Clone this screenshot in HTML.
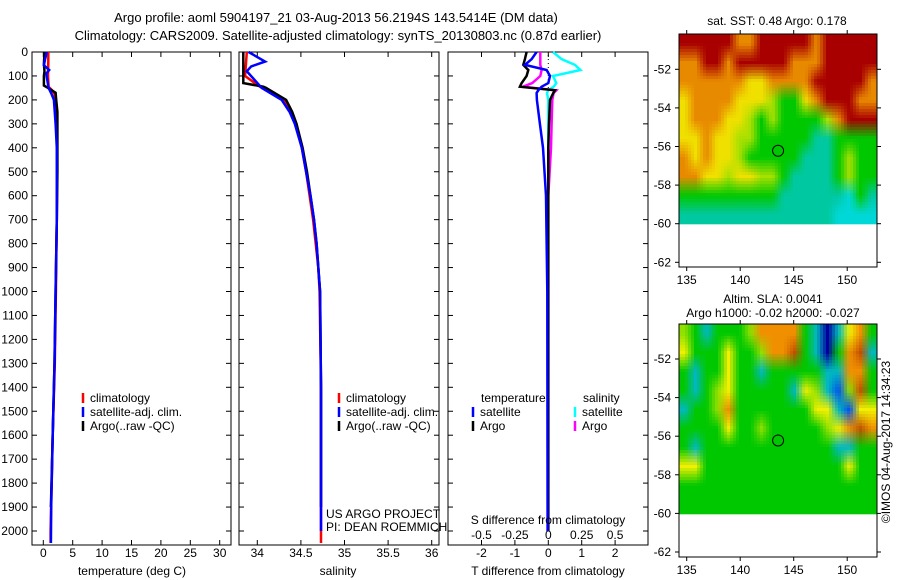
<!DOCTYPE html>
<html><head><meta charset="utf-8"><style>
body{margin:0;background:#fff}
svg{display:block;font-family:"Liberation Sans",sans-serif;font-size:12px}
</style></head><body>
<svg id="s" width="900" height="580" xmlns="http://www.w3.org/2000/svg">
<text x="336" y="22" text-anchor="middle" font-size="13">Argo profile: aoml 5904197_21 03-Aug-2013 56.2194S 143.5414E (DM data)</text>
<text x="338" y="40" text-anchor="middle" font-size="13">Climatology: CARS2009. Satellite-adjusted climatology: synTS_20130803.nc (0.87d earlier)</text>
</svg>
<script>
// ---- data ----
const depthTicks=[0,100,200,300,400,500,600,700,800,900,1000,1100,1200,1300,1400,1500,1600,1700,1800,1900,2000];
const tempTicks=[0,5,10,15,20,25,30];
const salTicks=[34,34.5,35,35.5,36];
const salTickLabels=["34","34.5","35","35.5","36"];
const tdTicks=[-2,-1,0,1,2];
const sdTicks=[-0.5,-0.25,0,0.25,0.5];
const sdTickLabels=["-0.5","-0.25","0","0.25","0.5"];
const tDepth=[0,40,100,145,160,175,200,300,500,700,1000,1300,1600,2000,2050];
const tClim=[0.85,0.85,0.8,0.9,1.5,1.9,2.1,2.3,2.35,2.3,2.15,1.95,1.6,1.25,1.25];
const satTDepth=[0,30,55,75,90,150,175,200,300,400,700,1000,1300,1600,1900,2050];
const tSat=[0.6,0.3,0.1,1.0,0.5,0.9,1.4,1.8,2.1,2.3,2.3,2.1,1.9,1.6,1.35,1.3];
const argoDepth=[0,50,80,100,140,150,170,200,250,300,500,700,1000,1300,1600,1900];
const tArgo=[0.2,0.1,0.2,0.1,0.1,0.8,2.1,2.2,2.4,2.4,2.4,2.3,2.1,1.9,1.6,1.3];
const sDepth=[0,100,145,200,250,300,400,500,600,700,800,900,1000,1400,2050];
const sClim=[33.88,33.86,34.03,34.3,34.39,34.44,34.51,34.56,34.6,34.64,34.67,34.70,34.715,34.73,34.73];
const sSatDepth=[0,40,60,80,150,200,250,300,400,500,600,700,800,900,1000,1400,2000];
const sSat=[33.9,34.09,33.93,33.88,34.05,34.28,34.37,34.43,34.51,34.56,34.61,34.65,34.68,34.70,34.72,34.73,34.73];
const sArgoDepth=[0,130,145,150,200,250,300,400,500,600,700,800,900,1000,1400,1900];
const sArgo=[33.84,33.84,34.07,34.1,34.33,34.4,34.45,34.52,34.57,34.61,34.65,34.68,34.70,34.72,34.73,34.73];
const dDepth=[0,30,54,75,100,130,145,160,171,200,300,400,600,1000,2000];
const dTSat=[-0.35,-0.5,-0.7,-0.05,0.05,0.0,-0.2,-0.3,-0.35,-0.34,-0.25,-0.16,-0.07,-0.03,-0.02];
const dTArgo=[-0.65,-0.7,-0.75,-0.6,-0.65,-0.8,-0.85,0.2,0.15,0.05,0.02,0.0,0.0,0.0,0.0];
const dSSat=[0.035,0.1,0.2,0.24,0.035,0.06,0.04,0.0,-0.01,0.0,0.0,0.0,0.0,0.0,0.0];
const dSArgo=[-0.06,-0.06,-0.06,-0.05,-0.06,-0.12,-0.19,0.06,0.04,0.03,0.025,0.02,0.0,0.0,0.0];
const lonTicks=[135,140,145,150];
const latTicks=[-52,-54,-56,-58,-60,-62];
const argoLon=143.54, argoLat=-56.22;
const sstGrid=["RRRRROORRRRRORRRRR","OORRORRRRROOORRRRR","OOOOOOYYOOOORRRRRO","YOOOOYYYLGGYORRROO","YOOOYYLGLGGGGLORRR","YYOYYLLGGGGGCCGGGG","OYOYYLGGGGGCCCGLGG","OOYYLYYLLGCCCCGLGG","GGGGGGGGGCCCCCCTGC","CCCCCCCCCCCCCCTTTT"];
const slaGrid=["LGCGGGLOOOOGCDCYOG","YGGGYGGLOORGCDGORC","GCGGYGGCGGGGGCCOOG","GCGLYGGGGGCYLCBLRG","CGGLOGGGGGGGYYCBYY","GGGGYGGLGGGGGLYORO","GCGGGGGGGGGGGGCCGG","YYGGGGGGGGGGGGGYGG","GGGGGGGGGGGGGGGGGG","GGGGGGGGGGGGGGGGGG"];
// ---- helpers ----
const S=document.getElementById('s'),NS='http://www.w3.org/2000/svg';
function mk(t,a,txt){const e=document.createElementNS(NS,t);for(const k in a)e.setAttribute(k,a[k]);if(txt!=null)e.textContent=txt;S.appendChild(e);return e;}
const yD=d=>52+d*0.2395;
const xT=v=>43.3+v*5.88;
const xS=v=>257.3+(v-34)*87.2;
const xTD=v=>548.3+v*33.4;
const xSD=v=>548.3+v*133.6;
const mx=lon=>686.7+(lon-135)*10.7;
const my1=lat=>69.3+(-52-lat)*19.3;
const my2=lat=>359+(-52-lat)*19.3;
function box(x0,x1,name){
  const r=mk('rect',{x:x0,y:52,width:x1-x0,height:493,fill:'none',stroke:'#000','stroke-width':1});
  
  depthTicks.forEach(d=>{mk('line',{x1:x0,x2:x0+5,y1:yD(d),y2:yD(d),stroke:'#000'});mk('line',{x1:x1-5,x2:x1,y1:yD(d),y2:yD(d),stroke:'#000'});});
}
function line(xs,ds,fx,col,name,w){
  const p=xs.map((v,i)=>fx(v).toFixed(1)+','+yD(ds[i]).toFixed(1)).join(' ');
  const e=mk('polyline',{points:p,fill:'none',stroke:col,'stroke-width':w||2.5});
  
}
function xticks(vals,labels,fx,x0,x1,y,name){
  vals.forEach((v,i)=>{const x=fx(v);mk('line',{x1:x,x2:x,y1:540,y2:545,stroke:'#000'});mk('line',{x1:x,x2:x,y1:52,y2:57,stroke:'#000'});
  const t=mk('text',{x:x,y:y,'text-anchor':'middle'},labels[i]);});
}
// panel 1
box(32,231,'temperature-panel');
depthTicks.forEach(d=>{const t=mk('text',{x:28,y:yD(d)+4,'text-anchor':'end'},String(d));});
xticks(tempTicks,tempTicks.map(String),xT,32,231,557,'temperature-tick-label');
line(tClim,tDepth,xT,'#f00','temperature-climatology-line');
line(tArgo,argoDepth,xT,'#000','temperature-argo-line');
line(tSat,satTDepth,xT,'#00f','temperature-satellite-line');
let t=mk('text',{x:132,y:575,'text-anchor':'middle'},'temperature (deg C)');
function leg(x,y,col,txt,name){mk('line',{x1:x,x2:x,y1:y-9,y2:y+1,stroke:col,'stroke-width':2.5});const e=mk('text',{x:x+7,y:y},txt);}
leg(83,402,'#f00','climatology','legend-climatology');leg(83,416,'#00f','satellite-adj. clim.','legend-satellite');leg(83,430,'#000','Argo(..raw -QC)','legend-argo');
// panel 2
box(239,439,'salinity-panel');
xticks(salTicks,salTickLabels,xS,239,439,557,'salinity-tick-label');
line(sClim,sDepth,xS,'#f00','salinity-climatology-line');
line(sArgo,sArgoDepth,xS,'#000','salinity-argo-line');
line(sSat,sSatDepth,xS,'#00f','salinity-satellite-line');
t=mk('text',{x:338,y:575,'text-anchor':'middle'},'salinity');
leg(339,402,'#f00','climatology','legend-climatology-2');leg(339,416,'#00f','satellite-adj. clim.','legend-satellite-2');leg(339,430,'#000','Argo(..raw -QC)','legend-argo-2');
t=mk('text',{x:326,y:518},'US ARGO PROJECT');
t=mk('text',{x:326,y:531},'PI: DEAN ROEMMICH');
// panel 3
box(448,648,'difference-panel');
xticks(tdTicks,tdTicks.map(String),xTD,448,648,557,'t-difference-tick-label');
sdTicks.forEach((v,i)=>{const e=mk('text',{x:xSD(v),y:539,'text-anchor':'middle'},sdTickLabels[i]);});
mk('line',{x1:548.3,x2:548.3,y1:55,y2:90,stroke:'#000','stroke-dasharray':'1,3'});
line(dSSat,dDepth,xSD,'#0ff','s-diff-satellite-line');
line(dSArgo,dDepth,xSD,'#f0f','s-diff-argo-line');
line(dTArgo,dDepth,xTD,'#000','t-diff-argo-line');
line(dTSat,dDepth,xTD,'#00f','t-diff-satellite-line');
t=mk('text',{x:548,y:524,'text-anchor':'middle'},'S difference from climatology');
t=mk('text',{x:548,y:575,'text-anchor':'middle'},'T difference from climatology');
t=mk('text',{x:481,y:402},'temperature');
t=mk('text',{x:583,y:402},'salinity');
leg(473,416,'#00f','satellite','legend-t-satellite');leg(473,430,'#000','Argo','legend-t-argo');
leg(575,416,'#0ff','satellite','legend-s-satellite');leg(575,430,'#f0f','Argo','legend-s-argo');
// maps (bilinear-smoothed coarse grids)
const cols={R:[168,0,0],O:[232,138,0],Y:[240,224,0],L:[168,224,0],G:[0,200,0],C:[0,200,160],T:[0,216,216]};
const colsSla={R:[192,80,0],O:[240,144,0],Y:[240,240,0],L:[144,224,0],G:[0,200,0],C:[0,184,192],B:[0,80,240],D:[0,0,160]};
function map(grid,top,pal,name){
  const g=document.createElementNS(NS,'g');S.appendChild(g);
  
  const cw=11,ch=19,st=3,nr=grid.length,nc=grid[0].length;
  const get=(r,c)=>pal[grid[Math.max(0,Math.min(nr-1,r))][Math.max(0,Math.min(nc-1,c))]];
  for(let py=0;py<190;py+=st){for(let px=0;px<198;px+=st){
    const fx=(px+st/2)/cw-0.5,fy=(py+st/2)/ch-0.5;const c0=Math.floor(fx),r0=Math.floor(fy);const ax=fx-c0,ay=fy-r0;
    const a=get(r0,c0),b=get(r0,c0+1),c=get(r0+1,c0),d=get(r0+1,c0+1);
    const col=[0,1,2].map(i=>Math.round(a[i]*(1-ax)*(1-ay)+b[i]*ax*(1-ay)+c[i]*(1-ax)*ay+d[i]*ax*ay));
    const e=document.createElementNS(NS,'rect');e.setAttribute('x',679+px);e.setAttribute('y',top+py);
    e.setAttribute('width',Math.min(st,198-px)+0.3);e.setAttribute('height',Math.min(st,190-py)+0.3);
    e.setAttribute('fill','rgb('+col.join(',')+')');g.appendChild(e);}}
}
function mapAxes(top,fy,name){
  const r=mk('rect',{x:679,y:top,width:198,height:233,fill:'none',stroke:'#000'});
  latTicks.forEach(l=>{const y=fy(l);mk('line',{x1:675,x2:679,y1:y,y2:y,stroke:'#000'});mk('line',{x1:877,x2:881,y1:y,y2:y,stroke:'#000'});
    const e=mk('text',{x:671,y:y+4,'text-anchor':'end'},String(l));});
  lonTicks.forEach(l=>{const x=mx(l);mk('line',{x1:x,x2:x,y1:top-4,y2:top,stroke:'#000'});mk('line',{x1:x,x2:x,y1:top+233,y2:top+237,stroke:'#000'});
    const e=mk('text',{x:x,y:top+250,'text-anchor':'middle'},String(l));});
  const c=mk('circle',{cx:mx(argoLon),cy:fy(argoLat),r:5.5,fill:'none',stroke:'#000'});
}
map(sstGrid,34,cols,'sst-map');mapAxes(34,my1,'sst-map-frame');
map(slaGrid,324,colsSla,'sla-map');mapAxes(324,my2,'sla-map-frame');
t=mk('text',{x:777,y:25,'text-anchor':'middle'},'sat. SST: 0.48 Argo: 0.178');
t=mk('text',{x:773,y:303,'text-anchor':'middle'},'Altim. SLA: 0.0041');
t=mk('text',{x:773,y:317,'text-anchor':'middle'},'Argo h1000: -0.02 h2000: -0.027');
t=mk('text',{x:890,y:442,'text-anchor':'middle',transform:'rotate(-90 890 442)'},'©IMOS 04-Aug-2017 14:34:23');
</script>
</body></html>
